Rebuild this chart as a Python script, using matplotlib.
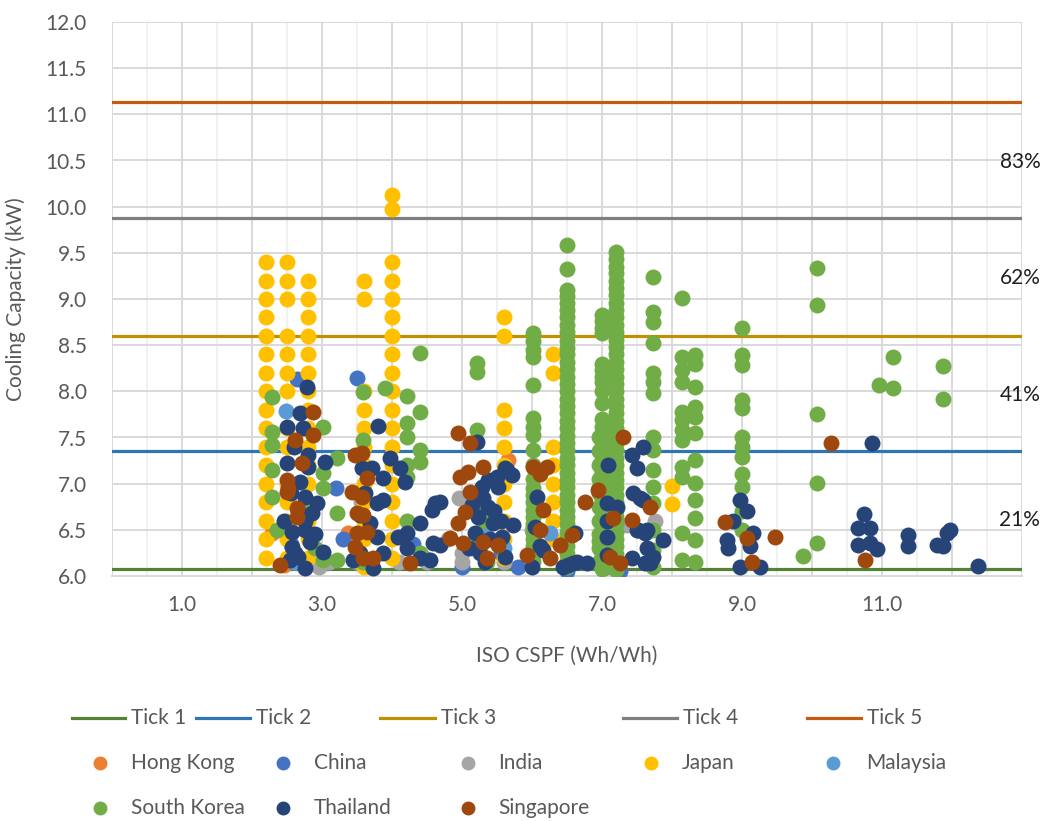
import matplotlib
matplotlib.use("Agg")
import matplotlib.pyplot as plt
from matplotlib.lines import Line2D

plt.rcParams['font.family'] = ['Lato', 'DejaVu Sans']

# ---- threshold lines (Cooling capacity level per tick) ----
tick_names = ["Tick 1", "Tick 2", "Tick 3", "Tick 4", "Tick 5"]
tick_levels = [6.08, 7.35, 8.60, 9.88, 11.13]
tick_colors = ["#548235", "#2E75B6", "#BF9000", "#7F7F7F", "#C55A11"]

pct_labels = ["21%", "41%", "62%", "83%"]
pct_levels = [6.61, 7.96, 9.23, 10.48]

x_tick_labels = ["1.0", "3.0", "5.0", "7.0", "9.0", "11.0"]
x_tick_values = [1, 3, 5, 7, 9, 11]

# ---- country series: ISO CSPF (x) vs cooling capacity (y) ----
hk_x = [2.29, 3.37, 5.66, 2.45]
hk_y = [6.47, 6.47, 7.26, 6.12]

cn_x = [2.64, 3.50, 3.20, 2.50, 2.55, 4.45, 5.00, 5.80, 6.50, 7.05, 7.25, 5.30, 3.30, 2.60, 4.30, 5.55]
cn_y = [8.13, 8.14, 6.95, 6.50, 6.35, 6.20, 6.10, 6.10, 6.05, 6.10, 6.05, 6.45, 6.40, 6.15, 6.35, 6.25]

in_x = [3.50, 3.55, 4.10, 4.50, 4.95, 5.00, 5.00, 5.60, 6.00, 7.35, 7.75, 3.10, 2.95, 4.80]
in_y = [6.15, 6.80, 6.15, 6.15, 6.85, 6.15, 6.25, 6.15, 6.50, 6.55, 6.60, 6.15, 6.10, 6.40]

jp_x = ([2.2] * 17 + [2.5] * 14 + [2.8] * 16 + [3.6] * 14 + [4.0] * 19
        + [5.6] * 11 + [6.3] * 8 + [8.0] * 2)
jp_y = ([9.4, 9.2, 9.0, 8.8, 8.6, 8.4, 8.2, 8.0, 7.8, 7.6, 7.4, 7.2, 7.0, 6.8, 6.6, 6.4, 6.2]
        + [9.4, 9.2, 9.0, 8.6, 8.4, 8.2, 8.0, 7.6, 7.4, 7.0, 6.8, 6.6, 6.4, 6.2]
        + [9.2, 9.0, 8.8, 8.6, 8.4, 8.2, 8.0, 7.8, 7.6, 7.4, 7.2, 7.0, 6.8, 6.6, 6.4, 6.2]
        + [9.2, 9.0, 8.0, 7.8, 7.6, 7.4, 7.2, 7.0, 6.8, 6.6, 6.4, 6.2, 6.1, 6.5]
        + [10.13, 9.97, 9.4, 9.2, 9.0, 8.8, 8.6, 8.4, 8.2, 8.0, 7.8, 7.6, 7.4, 7.2, 7.0, 6.8, 6.6, 6.4, 6.2]
        + [8.8, 8.6, 7.8, 7.6, 7.4, 7.2, 7.0, 6.8, 6.6, 6.4, 6.2]
        + [8.4, 8.2, 7.4, 7.2, 7.0, 6.8, 6.6, 6.4]
        + [6.98, 6.78])

my_x = [2.49, 6.26, 5.60, 2.60, 7.00, 5.35]
my_y = [7.79, 6.47, 6.30, 6.15, 6.10, 6.55]

kr_x = ([2.29, 2.29, 2.29, 2.29, 2.29, 2.35, 3.01, 3.21, 3.01, 3.01, 3.21, 3.21, 3.01, 3.90, 4.21,
         4.40, 4.40, 4.21, 4.21, 4.40, 4.40, 3.59, 3.59, 4.21, 4.21, 4.40, 3.59, 2.90, 2.75, 4.21,
         5.21, 5.21, 5.21, 5.25, 5.30, 5.15, 5.35]
        + [6.01] * 22
        + [6.5] * 41
        + [7.0] * 40
        + [6.95] * 12
        + [7.2] * 45
        + [7.73] * 15
        + [8.14] * 12
        + [8.33] * 12
        + [9.0] * 12
        + [10.07, 10.07, 10.07, 10.07, 10.07, 9.87, 11.16, 10.96, 11.16, 11.87, 11.87])
kr_y = ([7.94, 7.56, 7.42, 7.15, 6.86, 6.50, 7.61, 7.28, 7.12, 6.95, 6.68, 6.17, 6.17, 8.04, 7.95,
         8.42, 7.78, 7.66, 7.50, 7.36, 7.23, 7.99, 7.47, 7.07, 6.60, 6.25, 6.15, 6.30, 6.75, 7.20,
         8.31, 8.21, 7.58, 6.80, 6.60, 6.30, 6.15]
        + [8.63, 8.55, 8.45, 8.37, 8.07, 7.71, 7.61, 7.53, 7.36, 7.20, 7.05, 6.95, 6.88, 6.80, 6.72,
           6.64, 6.56, 6.48, 6.40, 6.32, 6.24, 6.16]
        + [9.58, 9.33, 9.10, 9.03, 8.96, 8.88, 8.80, 8.72, 8.64, 8.55, 8.47, 8.40, 8.32, 8.24, 8.16,
           8.08, 8.00, 7.92, 7.84, 7.76, 7.68, 7.60, 7.52, 7.44, 7.36, 7.28, 7.20, 7.12, 7.04, 6.96,
           6.88, 6.80, 6.72, 6.64, 6.56, 6.48, 6.40, 6.32, 6.24, 6.16, 6.10]
        + [8.83, 8.76, 8.69, 8.63, 8.30, 8.23, 8.16, 7.87, 7.61, 7.55, 7.47, 7.40, 7.33, 7.26, 7.19,
           7.12, 7.05, 6.98, 6.91, 6.84, 6.77, 6.70, 6.63, 6.56, 6.49, 6.42, 6.35, 6.28, 6.21, 6.14,
           6.08, 8.10, 8.00, 7.70, 7.45, 7.15, 6.85, 6.55, 6.25, 6.12]
        + [7.35, 7.20, 7.05, 6.90, 6.75, 6.60, 6.45, 6.30, 6.15, 7.50, 6.95, 6.38]
        + [9.51, 9.43, 9.35, 9.28, 9.20, 9.12, 9.04, 8.96, 8.88, 8.80, 8.72, 8.64, 8.56, 8.48, 8.40,
           8.32, 8.24, 8.16, 8.08, 8.00, 7.92, 7.84, 7.76, 7.68, 7.60, 7.52, 7.44, 7.36, 7.28, 7.20,
           7.12, 7.04, 6.96, 6.88, 6.80, 6.72, 6.64, 6.56, 6.48, 6.40, 6.32, 6.24, 6.16, 6.10, 6.07]
        + [9.24, 8.86, 8.75, 8.52, 8.20, 8.10, 7.98, 7.51, 7.37, 7.15, 6.96, 6.79, 6.50, 6.28, 6.10]
        + [9.01, 8.37, 8.23, 8.10, 7.78, 7.69, 7.58, 7.47, 7.18, 7.07, 6.47, 6.17]
        + [8.39, 8.30, 8.05, 7.83, 7.72, 7.55, 7.26, 7.01, 6.82, 6.63, 6.39, 6.15]
        + [8.69, 8.39, 8.29, 7.91, 7.82, 7.51, 7.40, 7.29, 7.10, 6.96, 6.70, 6.50]
        + [9.34, 8.93, 7.75, 7.01, 6.36, 6.22, 8.37, 8.07, 8.04, 8.27, 7.92])

th_x = [2.79, 2.69, 2.50, 2.73, 2.80, 3.04, 2.50, 2.80, 2.69, 2.76, 2.93, 2.86, 2.57, 2.76, 2.83,
        2.57, 3.01, 2.66, 2.76, 2.54, 2.60, 2.55, 2.75, 2.65, 2.90, 2.45, 2.62,
        3.80, 3.97, 4.11, 3.71, 3.87, 4.19, 3.57, 3.61, 3.79, 3.87, 4.61, 4.57, 3.54, 3.69, 3.79,
        4.09, 4.21, 4.40, 4.21, 4.59, 4.69, 4.40, 4.54, 3.44, 3.54, 3.73, 3.87,
        5.21, 5.61, 5.50, 5.37, 5.29, 5.51, 5.14, 5.37, 5.23, 5.44, 5.73, 5.19, 5.57, 5.61, 5.33,
        5.64, 5.71, 4.69, 5.30, 5.45, 5.10, 5.25, 5.40, 5.55,
        6.07, 6.04, 6.16, 6.00, 6.51, 6.64, 6.61, 6.11, 6.59, 6.79, 6.44,
        7.09, 7.07, 7.07, 7.43, 7.59, 7.50, 7.44, 7.59, 7.50, 7.64, 7.87, 7.64, 7.43, 7.69, 7.21,
        7.54, 7.07, 7.51, 7.61, 7.07, 7.73, 7.61,
        8.97, 9.07, 8.87, 8.79, 9.11, 8.80, 8.97, 9.16, 9.26,
        10.86, 10.74, 10.66, 10.83, 10.66, 10.83, 10.93, 11.37, 11.37, 11.79, 11.93, 11.97, 11.87,
        12.37]
th_y = [8.05, 7.76, 7.61, 7.60, 7.31, 7.24, 7.22, 7.18, 7.02, 6.86, 6.79, 6.68, 6.48, 6.50, 6.37,
        6.31, 6.26, 6.21, 6.09, 6.17, 7.40, 6.90, 6.60, 6.70, 6.45, 6.60, 6.25,
        7.62, 7.28, 7.17, 7.17, 7.06, 7.02, 7.17, 6.90, 6.79, 6.82, 6.79, 6.71, 6.66, 6.57, 6.42,
        6.42, 6.47, 6.57, 6.30, 6.36, 6.34, 6.20, 6.17, 6.17, 6.25, 6.09, 6.25,
        7.45, 7.17, 7.07, 7.04, 6.96, 6.96, 6.77, 6.75, 6.64, 6.57, 6.55, 6.47, 6.42, 6.21, 6.15,
        7.15, 7.09, 6.80, 6.85, 6.70, 6.30, 6.25, 6.40, 6.60,
        6.86, 6.53, 6.28, 6.10, 6.12, 6.15, 6.47, 6.32, 6.14, 6.14, 6.10,
        7.20, 6.79, 6.42, 7.31, 7.40, 7.17, 6.90, 6.82, 6.50, 6.50, 6.39, 6.30, 6.20, 6.14, 6.75,
        6.84, 6.60, 6.50, 6.47, 6.23, 6.21, 6.14,
        6.82, 6.70, 6.60, 6.39, 6.32, 6.30, 6.10, 6.47, 6.10,
        7.44, 6.67, 6.52, 6.52, 6.34, 6.36, 6.29, 6.44, 6.32, 6.34, 6.47, 6.50, 6.32,
        6.11]

sg_x = [2.87, 2.61, 2.87, 2.71, 2.50, 2.50, 2.64, 2.64, 2.40, 2.52,
        3.47, 3.57, 3.64, 3.43, 3.57, 3.50, 3.59, 3.50, 3.64, 3.47, 3.59, 3.73, 4.26,
        4.94, 5.11, 5.30, 5.09, 4.97, 5.11, 5.04, 4.94, 4.83, 5.01, 5.30, 5.51, 5.36,
        6.01, 6.21, 6.11, 6.16, 6.11, 6.40, 6.57, 6.26, 5.93, 6.76, 6.94, 7.16, 7.43, 7.69,
        7.30, 7.11, 7.26,
        8.76, 9.07, 9.14, 9.47, 10.27, 10.76]
sg_y = [7.78, 7.47, 7.53, 7.22, 7.04, 6.91, 6.74, 6.64, 6.12, 6.95,
        7.31, 7.33, 7.06, 6.91, 6.86, 6.68, 6.66, 6.47, 6.48, 6.31, 6.20, 6.20, 6.14,
        7.55, 7.44, 7.18, 7.13, 7.07, 6.91, 6.69, 6.57, 6.41, 6.36, 6.37, 6.34, 6.20,
        7.18, 7.18, 7.11, 6.72, 6.50, 6.34, 6.44, 6.20, 6.23, 6.80, 6.93, 6.63, 6.61, 6.75,
        7.51, 6.21, 6.14,
        6.59, 6.41, 6.15, 6.42, 7.44, 6.17]

series = [
    ("Hong Kong", hk_x, hk_y, "#ED7D31"),
    ("China", cn_x, cn_y, "#4472C4"),
    ("India", in_x, in_y, "#A5A5A5"),
    ("Japan", jp_x, jp_y, "#FFC000"),
    ("Malaysia", my_x, my_y, "#5B9BD5"),
    ("South Korea", kr_x, kr_y, "#70AD47"),
    ("Thailand", th_x, th_y, "#264478"),
    ("Singapore", sg_x, sg_y, "#9E480E"),
]

W, H = 1045, 821
fig = plt.figure(figsize=(W / 100, H / 100), dpi=100)
ax = fig.add_axes([112 / W, 1 - 576 / H, (1022 - 112) / W, (576 - 22) / H])

ax.set_xlim(0, 13)
ax.set_ylim(6.0, 12.0)

# grid: major every 1.0 (labels on odd values only), minor every 0.5
ax.set_xticks(range(0, 14))
ax.set_xticklabels([x_tick_labels[x_tick_values.index(v)] if v in x_tick_values else ""
                    for v in range(0, 14)])
ax.set_xticks([v + 0.5 for v in range(0, 13)], minor=True)
ax.set_yticks([6.0 + 0.5 * i for i in range(13)])
ax.set_yticklabels([f"{6.0 + 0.5 * i:.1f}" for i in range(13)])
ax.grid(which="major", axis="both", color="#D9D9D9", linewidth=1.4, zorder=0)
ax.grid(which="minor", axis="x", color="#EFEFEF", linewidth=1.2, zorder=0)
ax.set_axisbelow(True)
for s in ["top", "right", "left"]:
    ax.spines[s].set_visible(False)
ax.spines["bottom"].set_color("#D9D9D9")
ax.spines["bottom"].set_linewidth(1.4)
ax.tick_params(which="both", length=0, labelsize=15, labelcolor="#595959")
ax.tick_params(axis="x", pad=14)
ax.tick_params(axis="y", pad=18)

ax.set_xlabel("ISO CSPF (Wh/Wh)", fontsize=15, color="#595959", labelpad=22)
ax.set_ylabel("Cooling Capacity (kW)", fontsize=15, color="#595959", labelpad=14)

# threshold lines
for name, lvl, col in zip(tick_names, tick_levels, tick_colors):
    ax.axhline(lvl, color=col, linewidth=2.3, zorder=2)

# country scatter points
for k, (name, xs, ys, col) in enumerate(series):
    ax.scatter(xs, ys, s=132, color=col, linewidths=0, zorder=3 + k * 0.01)

# share labels on the right
for lab, lvl in zip(pct_labels, pct_levels):
    ax.text(12.97, lvl, lab, ha="center", va="center", fontsize=15, color="#1F1F1F", zorder=5)

# legend drawn in figure pixels
def fx(px):
    return px / W

def fy(py):
    return 1 - py / H

line_pos = [(72, 125, 131), (196, 250, 256), (380, 435, 441), (623, 677, 683), (807, 861, 867)]
for (x0, x1, tx), name, col in zip(line_pos, tick_names, tick_colors):
    fig.add_artist(Line2D([fx(x0), fx(x1)], [fy(718), fy(718)], transform=fig.transFigure,
                          color=col, linewidth=2.3))
    fig.text(fx(tx), fy(718), name, ha="left", va="center", fontsize=15, color="#595959")

mark_pos = [(100, 131, 763), (283, 314, 763), (468, 498, 763), (651, 682, 763), (833, 866, 763),
            (100, 131, 808), (283, 314, 808), (468, 498, 808)]
for (mx, tx, yy), (name, xs, ys, col) in zip(mark_pos, series):
    fig.add_artist(Line2D([fx(mx)], [fy(yy)], transform=fig.transFigure, marker="o",
                          markersize=9, color=col, linestyle="none"))
    fig.text(fx(tx), fy(yy), name, ha="left", va="center", fontsize=15, color="#595959")

fig.savefig("out.png", dpi=100, facecolor="white")
